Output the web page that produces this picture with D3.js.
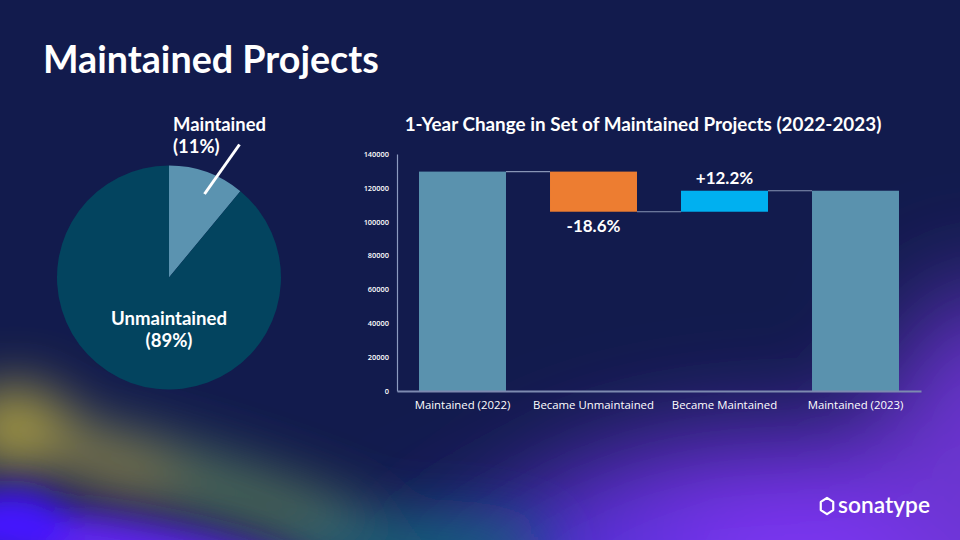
<!DOCTYPE html>
<html><head><meta charset="utf-8">
<script src="https://cdn.jsdelivr.net/npm/d3@7"></script>
<style>html,body{margin:0;padding:0;background:#121b4d;overflow:hidden}svg{display:block}</style>
</head><body>
<svg id="c" width="960" height="540"></svg>
<script>
// ---- data ----
const pieCategories = ["Maintained", "Unmaintained"];
const pieValues = [11, 89];
const pieLabels = ["(11%)", "(89%)"];

const wfCategories = ["Maintained (2022)", "Became Unmaintained", "Became Maintained", "Maintained (2023)"];
const wfValues = [129600, -23700, 12400, 118300];
const wfTypes = ["total", "delta", "delta", "total"];
const wfLabels = ["", "-18.6%", "+12.2%", ""];
const yTicks = [0, 20000, 40000, 60000, 80000, 100000, 120000, 140000];

const svg = d3.select("#c");
const defs = svg.append("defs");

// ---- background ----
svg.append("rect").attr("width", 960).attr("height", 540).attr("fill", "#121b4d");
function mkBlur(id, s) {
  const f = defs.append("filter").attr("id", id).attr("x", "-60%").attr("y", "-60%").attr("width", "220%").attr("height", "220%");
  f.append("feGaussianBlur").attr("stdDeviation", s);
}
mkBlur("b1", 55); mkBlur("b2", 28); mkBlur("b3", 16);
const bg1 = svg.append("g").attr("filter", "url(#b1)");
bg1.append("ellipse").attr("cx", 800).attr("cy", 570).attr("rx", 320).attr("ry", 130).attr("fill", "#7c36f2");
bg1.append("ellipse").attr("cx", 990).attr("cy", 450).attr("rx", 110).attr("ry", 160).attr("fill", "#6c34d0");
bg1.append("ellipse").attr("cx", 560).attr("cy", 580).attr("rx", 150).attr("ry", 60).attr("fill", "#4c32d8");
const bg2 = svg.append("g").attr("filter", "url(#b2)");
bg2.append("ellipse").attr("cx", 210).attr("cy", 485).attr("rx", 230).attr("ry", 30)
  .attr("transform", "rotate(17,210,485)").attr("fill", "#4f7058");
bg2.append("ellipse").attr("cx", 420).attr("cy", 548).attr("rx", 130).attr("ry", 30).attr("fill", "#16667a");
bg2.append("ellipse").attr("cx", 15).attr("cy", 428).attr("rx", 55).attr("ry", 42).attr("fill", "#a89c42");
bg2.append("ellipse").attr("cx", 110).attr("cy", 465).attr("rx", 70).attr("ry", 26).attr("transform", "rotate(17,110,465)").attr("fill", "#857e4a");
const bg3 = svg.append("g").attr("filter", "url(#b3)");
bg3.append("ellipse").attr("cx", 110).attr("cy", 548).attr("rx", 200).attr("ry", 30).attr("transform", "rotate(9,110,548)").attr("fill", "#6226f2");
bg3.append("ellipse").attr("cx", 10).attr("cy", 525).attr("rx", 60).attr("ry", 35).attr("fill", "#4512ff");

function fitWidth(sel, w) {
  const n = sel.node();
  const cur = n.getComputedTextLength();
  const fs = parseFloat(sel.attr("font-size"));
  sel.attr("font-size", fs * w / cur);
}

// ---- title ----
const title = svg.append("text").attr("x", 43).attr("y", 73)
  .attr("font-family", "Lato, 'Open Sans', sans-serif").attr("font-weight", 700)
  .attr("font-size", 32).attr("fill", "#ffffff").text("Maintained Projects");
fitWidth(title, 336);

// ---- pie ----
const pieG = svg.append("g").attr("transform", "translate(169,277.5)");
const pie = d3.pie().sort(null).value(d => d)(pieValues);
const arc = d3.arc().innerRadius(0).outerRadius(112);
const pieColors = ["#5b93b0", "#03445f"];
pieG.selectAll("path").data(pie).join("path").attr("d", arc).attr("fill", (d, i) => pieColors[i]);

// leader line for Maintained
svg.append("line").attr("x1", 239.5).attr("y1", 144.5).attr("x2", 204.5).attr("y2", 194)
  .attr("stroke", "#ffffff").attr("stroke-width", 3);
const pl = { family: "Lato, 'Open Sans', sans-serif" };
const m1 = svg.append("text").attr("x", 173).attr("y", 131).attr("font-family", pl.family).attr("font-weight", 700)
  .attr("font-size", 16).attr("fill", "#fff").text(pieCategories[0]);
fitWidth(m1, 93);
svg.append("text").attr("x", 173).attr("y", 153).attr("font-family", pl.family).attr("font-weight", 700)
  .attr("font-size", m1.attr("font-size")).attr("fill", "#fff").text(pieLabels[0]);
const u1 = svg.append("text").attr("x", 169).attr("y", 325).attr("text-anchor", "middle").attr("font-family", pl.family).attr("font-weight", 700)
  .attr("font-size", 16).attr("fill", "#fff").text(pieCategories[1]);
fitWidth(u1, 116);
svg.append("text").attr("x", 169).attr("y", 347).attr("text-anchor", "middle").attr("font-family", pl.family).attr("font-weight", 700)
  .attr("font-size", u1.attr("font-size")).attr("fill", "#fff").text(pieLabels[1]);

// ---- waterfall ----
const ct = svg.append("text").attr("x", 643).attr("y", 131).attr("text-anchor", "middle")
  .attr("font-family", "Lato, 'Open Sans', sans-serif").attr("font-weight", 700)
  .attr("font-size", 17).attr("fill", "#fff").text("1-Year Change in Set of Maintained Projects (2022-2023)");
fitWidth(ct, 477);

const x = d3.scaleBand().domain(wfCategories).range([397, 921]).paddingInner(0.336).paddingOuter(0.168);
const y = d3.scaleLinear().domain([0, 140000]).range([391, 154]);

// compute waterfall segments
let run = 0;
const segs = wfCategories.map((c, i) => {
  let y0, y1;
  if (wfTypes[i] === "total") { y0 = 0; y1 = wfValues[i]; run = wfValues[i]; }
  else { y0 = run; y1 = run + wfValues[i]; run = y1; }
  return { c, i, y0, y1, lo: Math.min(y0, y1), hi: Math.max(y0, y1), end: y1 };
});
const barColor = (d) => wfTypes[d.i] === "total" ? "#5a92ae" : (wfValues[d.i] < 0 ? "#ed7d31" : "#00b0f0");

// y axis
const yAxis = d3.axisLeft(y).tickValues(yTicks).tickSize(0).tickPadding(8).tickFormat(d3.format("d"));
const ya = svg.append("g").attr("transform", "translate(397,0)").call(yAxis);
ya.select(".domain").attr("stroke", "#8c9bc0").attr("stroke-width", 1.2);
ya.selectAll("text").attr("fill", "#fff").attr("font-family", "'Open Sans', sans-serif").attr("font-size", 7.4).attr("font-weight", 600);

// connectors
const conG = svg.append("g");
segs.slice(0, -1).forEach((d, k) => {
  const n = segs[k + 1];
  conG.append("line").attr("x1", x(d.c) + x.bandwidth()).attr("x2", x(n.c))
    .attr("y1", y(d.end)).attr("y2", y(d.end)).attr("stroke", "#8794b5").attr("stroke-width", 1.2);
});

svg.append("g").selectAll("rect").data(segs).join("rect")
  .attr("x", d => x(d.c)).attr("width", x.bandwidth())
  .attr("y", d => y(d.hi)).attr("height", d => y(d.lo) - y(d.hi))
  .attr("fill", barColor);

// x axis
const xAxis = d3.axisBottom(x).tickSize(0).tickPadding(10);
const xa = svg.append("g").attr("transform", "translate(0,391)").call(xAxis);
xa.select(".domain").attr("stroke", "#7d8ab0").attr("stroke-width", 2);
xa.selectAll("text").attr("fill", "#fff").attr("font-family", "'Open Sans', sans-serif").attr("font-size", 11);
const refLbl = xa.selectAll("text").filter(d => d === wfCategories[1]);
const scaleF = 121 / refLbl.node().getComputedTextLength();
xa.selectAll("text").attr("font-size", 11 * scaleF);

// delta labels
segs.forEach(d => {
  if (!wfLabels[d.i]) return;
  const neg = wfValues[d.i] < 0;
  svg.append("text").attr("x", x(d.c) + x.bandwidth() / 2)
    .attr("y", neg ? y(d.lo) + 20 : y(d.hi) - 7)
    .attr("text-anchor", "middle").attr("font-family", "Lato, 'Open Sans', sans-serif")
    .attr("font-weight", 700).attr("font-size", 17).attr("fill", "#fff").text(wfLabels[d.i]);
});

// ---- logo ----
const lg = svg.append("g").attr("transform", "translate(827,506)");
const hex = d3.range(6).map(k => { const a = Math.PI / 3 * k + Math.PI / 6; return [7.2 * Math.cos(a), 8.2 * Math.sin(a)]; });
lg.append("path").attr("d", d3.line()(hex) + "Z").attr("fill", "none").attr("stroke", "#fff").attr("stroke-width", 2.2).attr("stroke-linejoin", "round");
const lt = svg.append("text").attr("x", 838).attr("y", 513).attr("font-family", "Lato, 'Open Sans', sans-serif")
  .attr("font-weight", 600).attr("font-size", 20).attr("fill", "#fff").text("sonatype");
fitWidth(lt, 92);
</script>
</body></html>
